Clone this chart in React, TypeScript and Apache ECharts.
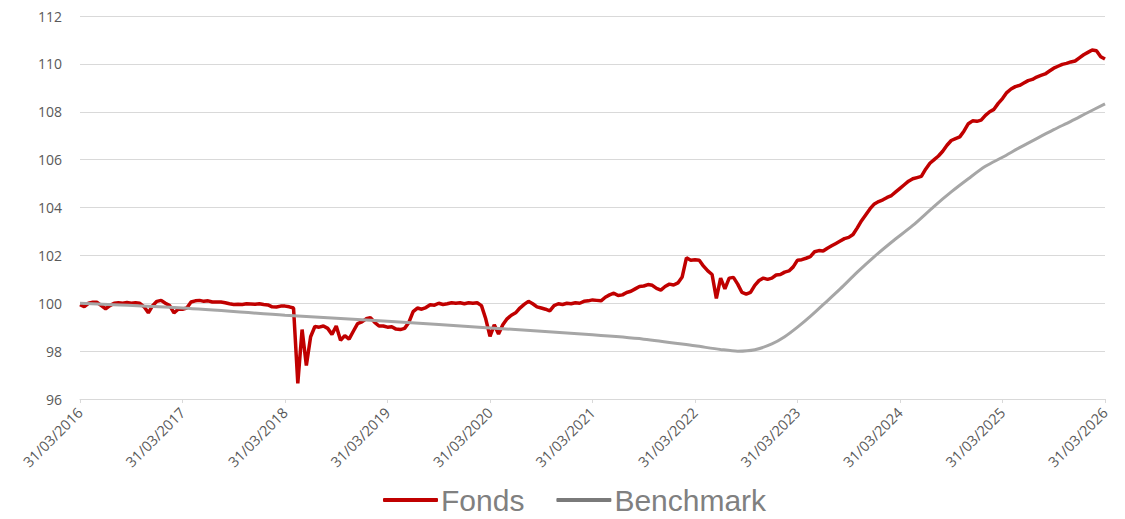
import React, { useEffect, useRef } from "react";
import * as echarts from "echarts";

// Semi-monthly samples starting 31/03/2016 (index 0) to 31/03/2026 (index 240)
const startYear = 2016;
const stepsPerYear = 24;
const yTicks = { min: 96, max: 112, interval: 2 };

const fonds: number[] = [
  99.94, 99.86, 100.0, 100.04, 100.04, 99.9, 99.77, 99.9, 100.0, 100.02,
  100.0, 100.03, 100.0, 100.02, 100.0, 99.85, 99.6, 99.9, 100.08, 100.12,
  100.0, 99.9, 99.6, 99.75, 99.75, 99.8, 100.05, 100.1, 100.12, 100.08,
  100.1, 100.05, 100.05, 100.05, 100.02, 99.98, 99.95, 99.96, 99.95, 99.98,
  99.97, 99.96, 99.98, 99.95, 99.93, 99.85, 99.84, 99.88, 99.88, 99.85,
  99.8, 96.65, 98.9, 97.4, 98.6, 99.03, 99.0, 99.05, 98.95, 98.7,
  99.05, 98.45, 98.65, 98.5, 98.83, 99.15, 99.22, 99.35, 99.4, 99.2,
  99.05, 99.05, 99.0, 99.02, 98.92, 98.9, 98.95, 99.2, 99.65, 99.8,
  99.75, 99.82, 99.94, 99.92, 100.0, 99.95, 99.98, 100.02, 100.0, 100.02,
  99.98, 100.02, 100.0, 100.02, 99.9, 99.35, 98.62, 99.1, 98.72, 99.1,
  99.35, 99.5, 99.6, 99.8, 99.95, 100.08, 99.98, 99.85, 99.8, 99.75,
  99.68, 99.9, 99.98, 99.95, 100.0, 99.98, 100.02, 100.0, 100.08, 100.1,
  100.14, 100.12, 100.1, 100.25, 100.35, 100.42, 100.32, 100.35, 100.45, 100.5,
  100.6, 100.7, 100.72, 100.78, 100.75, 100.62, 100.55, 100.7, 100.8, 100.76,
  100.85, 101.1, 101.9, 101.8, 101.82, 101.8, 101.55, 101.35, 101.2, 100.2,
  101.05, 100.6, 101.05, 101.08, 100.8, 100.45, 100.38, 100.45, 100.75, 100.95,
  101.05, 101.0, 101.05, 101.18, 101.2, 101.3, 101.35, 101.52, 101.8, 101.82,
  101.88, 101.95, 102.15, 102.2, 102.18, 102.3, 102.4, 102.5, 102.6, 102.7,
  102.75, 102.87, 103.15, 103.45, 103.7, 103.95, 104.15, 104.25, 104.32, 104.42,
  104.5, 104.65, 104.8, 104.95, 105.1, 105.2, 105.25, 105.3, 105.6, 105.85,
  106.0, 106.15, 106.35, 106.6, 106.8, 106.88, 106.95, 107.2, 107.5, 107.62,
  107.6, 107.65, 107.85, 108.0, 108.1, 108.35, 108.55, 108.8, 108.95, 109.05,
  109.1, 109.2, 109.3, 109.35, 109.45, 109.52, 109.58, 109.7, 109.82, 109.9,
  109.98, 110.02, 110.08, 110.12, 110.25, 110.38, 110.48, 110.58, 110.55, 110.3,
  110.2,
];

const benchIdx: number[] = [
  0, 24, 48, 72, 96, 120, 132, 144, 150, 154, 158, 162, 165, 168, 171, 174,
  178, 182, 186, 190, 195, 200, 204, 208, 212, 216, 220, 224, 228, 232, 236, 240,
];
const benchVals: number[] = [
  100.0, 99.8, 99.5, 99.25, 98.97, 98.68, 98.5, 98.22, 98.07, 98.0, 98.06, 98.3,
  98.6, 99.0, 99.45, 99.94, 100.6, 101.3, 101.95, 102.55, 103.25, 104.05, 104.65,
  105.2, 105.72, 106.1, 106.5, 106.88, 107.25, 107.6, 107.97, 108.33,
];

const seriesNames = ["Fonds", "Benchmark"];
const fondsColor = "#c00000";
const benchColor = "#a6a6a6";
const benchLegendColor = "#7a7a7a";

export default function App() {
  const ref = useRef<HTMLDivElement>(null);
  useEffect(() => {
    if (!ref.current) return;
    const chart = echarts.init(ref.current, undefined, { renderer: "svg" });
    const gridColor = "#d9d9d9";
    chart.setOption({
      animation: false,
      backgroundColor: "#ffffff",
      grid: { left: 80, right: 20, top: 16, bottom: 120, containLabel: false },
      legend: {
        left: 383,
        top: 485,
        padding: 0,
        icon: "roundRect",
        itemWidth: 55,
        itemHeight: 4,
        itemGap: 32,
        textStyle: {
          fontFamily: "Liberation Sans",
          fontSize: 30,
          lineHeight: 30,
          color: "#808080",
          padding: [0, 0, 0, -2],
        },
        data: [
          { name: seriesNames[0], itemStyle: { color: fondsColor } },
          { name: seriesNames[1], itemStyle: { color: benchLegendColor } },
        ],
      },
      xAxis: {
        type: "value",
        min: 0,
        max: 240,
        interval: stepsPerYear,
        axisLine: { show: true, lineStyle: { color: gridColor, width: 1 } },
        axisTick: { show: true, length: 4, lineStyle: { color: gridColor } },
        splitLine: { show: false },
        axisLabel: {
          rotate: 45,
          margin: 11,
          color: "#595959",
          fontFamily: "Open Sans",
          fontSize: 14.5,
          formatter: (v: number) => `31/03/${startYear + Math.round(v / stepsPerYear)}`,
        },
      },
      yAxis: {
        type: "value",
        min: yTicks.min,
        max: yTicks.max,
        interval: yTicks.interval,
        axisLine: { show: false },
        axisTick: { show: false },
        splitLine: { show: true, lineStyle: { color: gridColor, width: 1 } },
        axisLabel: {
          margin: 18,
          color: "#595959",
          fontFamily: "Open Sans",
          fontSize: 14,
        },
      },
      series: [
        {
          name: seriesNames[0],
          type: "line",
          showSymbol: false,
          data: fonds.map((v, i) => [i, v]),
          lineStyle: { color: fondsColor, width: 3.5 },
          itemStyle: { color: fondsColor },
          z: 2,
        },
        {
          name: seriesNames[1],
          type: "line",
          showSymbol: false,
          smooth: 0.3,
          data: benchIdx.map((x, i) => [x, benchVals[i]]),
          lineStyle: { color: benchColor, width: 3 },
          itemStyle: { color: benchLegendColor },
          z: 3,
        },
      ],
    });
    return () => chart.dispose();
  }, []);
  return (
    <div
      ref={ref}
      style={{ position: "absolute", left: 0, top: 0, width: 1125, height: 519 }}
    />
  );
}
